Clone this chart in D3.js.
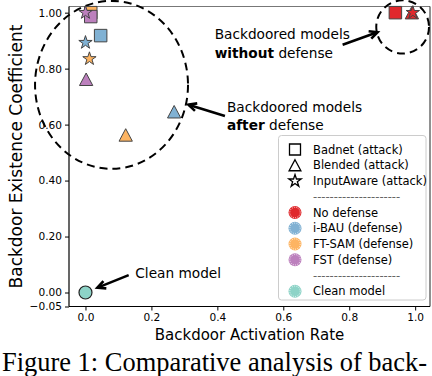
<!DOCTYPE html>
<html lang="en">
<head>
    <meta charset="utf-8"/>
    <script src="https://d3js.org/d3.v7.min.js"></script>
    <title>Backdoor chart</title>
    <style>
        body { margin: 0; background: #fff; }
        svg { display: block; }
        text { font-family: "DejaVu Sans", sans-serif; fill: #000; }
        .caption { font-family: "Liberation Serif", "Times New Roman", serif; }
    </style>
</head>
<body>
<svg width="432" height="376"></svg>
<script>
    // categories
    const attacks = ["Badnet", "Blended", "InputAware"];
    const defenses = ["No defense", "i-BAU", "FT-SAM", "FST"];
    const defenseColors = ["#e0282c", "#80b1d3", "#fdb462", "#bc80bd"];
    const cleanColor = "#8dd3c7";

    // values per defense, order follows attacks: [Badnet, Blended, InputAware]
    const noDefenseBAR = [0.94, 0.99, 0.993];
    const noDefenseBEC = [1.0, 1.0, 1.0];
    const ibauBAR = [0.046, 0.269, 0.0];
    const ibauBEC = [0.918, 0.646, 0.893];
    const ftsamBAR = [0.016, 0.122, 0.012];
    const ftsamBEC = [1.0, 0.563, 0.835];
    const fstBAR = [0.016, 0.002, 0.0];
    const fstBEC = [0.986, 0.762, 1.0];
    const cleanBAR = [0.0];
    const cleanBEC = [0.0];

    const xTicks = [0.0, 0.2, 0.4, 0.6, 0.8, 1.0];
    const yTicks = [-0.05, 0.0, 0.2, 0.4, 0.6, 0.8, 1.0];

    const svg = d3.select("svg");
    const mLeft = 69, mRight = 430, mTop = 6.5, mBottom = 306.5;

    const x = d3.scaleLinear().domain([-0.05, 1.045]).range([mLeft, mRight]);
    const y = d3.scaleLinear().domain([-0.05, 1.022]).range([mBottom, mTop]);

    // axes
    const xAxis = d3.axisBottom(x).tickValues(xTicks).tickFormat(d3.format(".1f")).tickSize(4).tickPadding(3);
    const yAxis = d3.axisLeft(y).tickValues(yTicks).tickFormat(d3.format(".2f")).tickSize(4).tickPadding(3);

    svg.append("g").attr("transform", `translate(0,${mBottom})`).call(xAxis)
        .call(g => g.select(".domain").remove())
        .selectAll("text").style("font-size", "10.6px");
    svg.append("g").attr("transform", `translate(${mLeft},0)`).call(yAxis)
        .call(g => g.select(".domain").remove())
        .selectAll("text").style("font-size", "10.6px");

    // spines
    svg.append("line").attr("x1", mLeft).attr("x2", mRight).attr("y1", mTop).attr("y2", mTop)
        .attr("stroke", "#777").attr("stroke-width", 1);
    svg.append("line").attr("x1", mRight).attr("x2", mRight).attr("y1", mTop).attr("y2", mBottom)
        .attr("stroke", "#222").attr("stroke-width", 1);
    svg.append("line").attr("x1", mLeft).attr("x2", mLeft).attr("y1", mTop).attr("y2", mBottom)
        .attr("stroke", "#000").attr("stroke-width", 1.2);
    svg.append("line").attr("x1", mLeft).attr("x2", mRight).attr("y1", mBottom).attr("y2", mBottom)
        .attr("stroke", "#000").attr("stroke-width", 1.2);

    // axis labels
    svg.append("text").attr("x", (mLeft + mRight) / 2).attr("y", 340)
        .attr("text-anchor", "middle").style("font-size", "15px")
        .text("Backdoor Activation Rate");
    svg.append("text").attr("transform", `translate(22,${(mTop + mBottom) / 2}) rotate(-90)`)
        .attr("text-anchor", "middle").style("font-size", "17px")
        .text("Backdoor Existence Coefficient");

    // marker shapes
    function squarePath(s) {
        const h = s / 2;
        return `M${-h},${-h}H${h}V${h}H${-h}Z`;
    }
    function trianglePath(s) {
        const w = s / 2 + 0.4, h = s / 2;
        return `M0,${-h}L${w},${h}L${-w},${h}Z`;
    }
    function starPath(r) {
        const pts = [];
        for (let i = 0; i < 10; i++) {
            const rr = i % 2 === 0 ? r : r * 0.382;
            const a = -Math.PI / 2 + i * Math.PI / 5;
            pts.push([rr * Math.cos(a), rr * Math.sin(a)]);
        }
        return "M" + pts.map(p => p.join(",")).join("L") + "Z";
    }
    const shapes = [squarePath(12.5), trianglePath(12.5), starPath(7)];
    const legendShapes = [squarePath(11), trianglePath(11), starPath(6.5)];

    // annotation ellipses
    const ellipses = [
        {cx: 0.079, cy: 0.742, rx: 0.232, ry: 0.30},
        {cx: 0.962, cy: 0.949, rx: 0.08, ry: 0.095}
    ];
    svg.selectAll(".ring").data(ellipses).enter().append("ellipse")
        .attr("class", "ring")
        .attr("cx", d => x(d.cx)).attr("cy", d => y(d.cy))
        .attr("rx", d => x(d.rx) - x(0)).attr("ry", d => y(0) - y(d.ry))
        .attr("fill", "none").attr("stroke", "#000").attr("stroke-width", 2)
        .attr("stroke-dasharray", "8,5");

    // points
    const series = [
        {bar: noDefenseBAR, bec: noDefenseBEC, color: defenseColors[0]},
        {bar: ibauBAR, bec: ibauBEC, color: defenseColors[1]},
        {bar: ftsamBAR, bec: ftsamBEC, color: defenseColors[2]},
        {bar: fstBAR, bec: fstBEC, color: defenseColors[3]}
    ];
    const points = [];
    series.forEach(s => {
        attacks.forEach((a, i) => points.push({bar: s.bar[i], bec: s.bec[i], color: s.color, shape: i}));
    });
    svg.append("g").selectAll("path").data(points).enter().append("path")
        .attr("transform", d => `translate(${x(d.bar)},${y(d.bec)})`)
        .attr("d", d => shapes[d.shape])
        .attr("fill", d => d.color)
        .attr("stroke", "#444").attr("stroke-width", 1);

    svg.append("g").selectAll("circle").data(cleanBAR).enter().append("circle")
        .attr("cx", d => x(d)).attr("cy", (d, i) => y(cleanBEC[i])).attr("r", 6.5)
        .attr("fill", cleanColor).attr("stroke", "#222").attr("stroke-width", 1.2);

    // arrows and notes
    const arrows = [
        {x1: 0.78, y1: 0.885, x2: 0.886, y2: 0.93},
        {x1: 0.423, y1: 0.631, x2: 0.312, y2: 0.671},
        {x1: 0.131, y1: 0.062, x2: 0.036, y2: 0.017}
    ];
    arrows.forEach(a => {
        const x1 = x(a.x1), y1 = y(a.y1), x2 = x(a.x2), y2 = y(a.y2);
        const ang = Math.atan2(y2 - y1, x2 - x1);
        const len = 9, spread = 0.45;
        svg.append("line").attr("x1", x1).attr("y1", y1).attr("x2", x2 - Math.cos(ang)).attr("y2", y2 - Math.sin(ang))
            .attr("stroke", "#000").attr("stroke-width", 2.6);
        svg.append("path")
            .attr("d", `M${x2 - len * Math.cos(ang - spread)},${y2 - len * Math.sin(ang - spread)}L${x2},${y2}L${x2 - len * Math.cos(ang + spread)},${y2 - len * Math.sin(ang + spread)}`)
            .attr("fill", "none").attr("stroke", "#000").attr("stroke-width", 2.6)
            .attr("stroke-linejoin", "miter");
    });

    function note(bx, by1, by2, line1, bold, rest) {
        const t = svg.append("text").attr("x", x(bx)).attr("y", y(by1)).style("font-size", "13.7px");
        t.text(line1);
        if (bold !== null) {
            const t2 = svg.append("text").attr("x", x(bx)).attr("y", y(by2)).style("font-size", "13.7px");
            t2.append("tspan").attr("font-weight", "bold").text(bold);
            t2.append("tspan").text(rest);
        }
    }
    note(0.392, 0.906, 0.838, "Backdoored models", "without", " defense");
    note(0.429, 0.645, 0.581, "Backdoored models", "after", " defense");
    note(0.151, 0.0525, 0, "Clean model", null, null);

    // legend
    const legendRows = [
        {label: "Badnet (attack)", kind: "shape", idx: 0},
        {label: "Blended (attack)", kind: "shape", idx: 1},
        {label: "InputAware (attack)", kind: "shape", idx: 2},
        {label: "---------------------", kind: "sep"},
        {label: "No defense", kind: "dot", color: defenseColors[0]},
        {label: "i-BAU (defense)", kind: "dot", color: defenseColors[1]},
        {label: "FT-SAM (defense)", kind: "dot", color: defenseColors[2]},
        {label: "FST (defense)", kind: "dot", color: defenseColors[3]},
        {label: "---------------------", kind: "sep"},
        {label: "Clean model", kind: "dot", color: cleanColor}
    ];
    const lg = svg.append("g");
    lg.append("rect").attr("x", 278.5).attr("y", 135.5).attr("width", 147.5).attr("height", 164.5)
        .attr("rx", 3).attr("fill", "#fff").attr("fill-opacity", 0.85)
        .attr("stroke", "#ccc").attr("stroke-width", 1);
    const rowY = i => 149.5 + i * 15.75;
    legendRows.forEach((r, i) => {
        const cy = rowY(i);
        if (r.kind === "shape") {
            lg.append("path").attr("transform", `translate(295,${cy})`).attr("d", legendShapes[r.idx])
                .attr("fill", "#fff").attr("stroke", "#000").attr("stroke-width", 1.3);
        } else if (r.kind === "dot") {
            lg.append("circle").attr("cx", 295).attr("cy", cy).attr("r", 6.5).attr("fill", r.color);
            lg.append("circle").attr("cx", 295).attr("cy", cy).attr("r", 5.2).attr("fill", "none")
                .attr("stroke", "#fff").attr("stroke-width", 0.8).attr("stroke-dasharray", "1,1.3");
        }
        lg.append("text").attr("x", 313).attr("y", cy).attr("dy", "0.36em")
            .style("font-size", "11.5px")
            .style("fill", r.kind === "sep" ? "#666" : "#000")
            .text(r.label);
    });

    // caption
    svg.append("text").attr("class", "caption").attr("x", 2).attr("y", 371)
        .attr("textLength", 425).attr("lengthAdjust", "spacingAndGlyphs")
        .style("font-size", "26.5px").text("Figure 1: Comparative analysis of back-");
</script>
</body>
</html>
